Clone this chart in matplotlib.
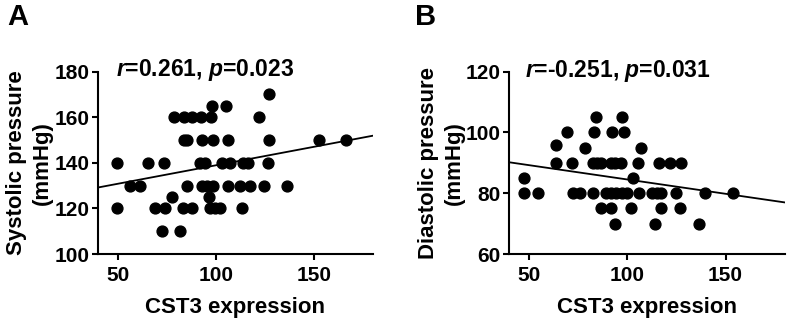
import numpy as np
import matplotlib
matplotlib.use("Agg")
import matplotlib.pyplot as plt

plt.rcParams['font.family'] = ['Liberation Sans', 'DejaVu Sans']
plt.rcParams['font.weight'] = 'bold'
plt.rcParams['mathtext.fontset'] = 'custom'
plt.rcParams['mathtext.rm'] = 'Liberation Sans:bold'
plt.rcParams['mathtext.it'] = 'Liberation Sans:bold:italic'

# panel A: CST3 expression vs systolic pressure
sys_x = [127.3,
         98.2, 105.5,
         79, 84, 88, 92.5, 97.5, 122,
         84, 85.5, 92.8, 98.5, 106.3, 127.3, 152.8, 166.5,
         49.5, 65.3, 73.5, 92, 94.8, 103.2, 107.3, 114, 116.5, 126.5,
         56.5, 61.2, 85.2, 92.8, 95.7, 98.5, 106.5, 112.3, 117.3, 124.8, 136.2,
         77.8, 96.5,
         49.5, 69, 74, 83.2, 87.8, 97.3, 99.8, 102.3, 113.2,
         72.7, 82]
sys_y = [170,
         165, 165,
         160, 160, 160, 160, 160, 160,
         150, 150, 150, 150, 150, 150, 150, 150,
         140, 140, 140, 140, 140, 140, 140, 140, 140, 140,
         130, 130, 130, 130, 130, 130, 130, 130, 130, 130, 130,
         125, 125,
         120, 120, 120, 120, 120, 120, 120, 120, 120,
         110, 110]
sys_fit_x = [40, 180]
sys_fit_y = [129.2, 151.9]

# panel B: CST3 expression vs diastolic pressure
dia_x = [84.3, 97.4,
         69.4, 82.9, 92.3, 98.3,
         63.7,
         78.3, 107.2,
         63.7, 72, 82.5, 84.7, 86.7, 91.5, 93.6, 97, 105.7, 115.9, 121.9, 127.4,
         47.4, 103.1,
         47.4, 54.8, 72.3, 76.2, 82.5, 89.4, 92, 94.5, 97.1, 99.7, 106,
         112.5, 115, 117, 125, 139.5, 153.6,
         86.5, 92, 102, 117.2, 126.6,
         93.7, 114.2, 136.5]
dia_y = [105, 105,
         100, 100, 100, 100,
         96,
         95, 95,
         90, 90, 90, 90, 90, 90, 90, 90, 90, 90, 90, 90,
         85, 85,
         80, 80, 80, 80, 80, 80, 80, 80, 80, 80, 80,
         80, 80, 80, 80, 80, 80,
         75, 75, 75, 75, 75,
         70, 70, 70]
dia_fit_x = [40, 180]
dia_fit_y = [90.2, 77.0]

fig = plt.figure(figsize=(7.87, 3.2), dpi=100)
ax1 = fig.add_axes([0.1245, 0.206, 0.349, 0.570])
ax2 = fig.add_axes([0.647, 0.206, 0.350, 0.570])


def style_axis(ax, ylim, yticks, ylabel):
    ax.set_xlim(40, 180)
    ax.set_ylim(*ylim)
    ax.set_xticks([50, 100, 150])
    ax.set_yticks(yticks)
    for side in ['top', 'right']:
        ax.spines[side].set_visible(False)
    for side in ['left', 'bottom']:
        ax.spines[side].set_linewidth(1.5)
    ax.tick_params(direction='out', length=4.5, width=1.5, labelsize=15)
    ax.tick_params(axis='x', pad=4)
    ax.tick_params(axis='y', pad=1.5)
    for lab in ax.get_xticklabels() + ax.get_yticklabels():
        lab.set_fontweight('bold')
    ax.set_xlabel('CST3 expression', fontsize=16, fontweight='bold', labelpad=9)
    ax.set_ylabel(ylabel, fontsize=16, fontweight='bold', labelpad=1,
                  linespacing=1.3)


ax1.plot(sys_x, sys_y, 'o', color='black', markersize=7.8, clip_on=False)
ax1.plot(sys_fit_x, sys_fit_y, '-', color='black', linewidth=1.3)
style_axis(ax1, (100, 180), [100, 120, 140, 160, 180], 'Systolic pressure\n(mmHg)')
ax1.text(0.389, 0.978, '$r$=0.261, $p$=0.023', transform=ax1.transAxes,
         ha='center', va='baseline', fontsize=16.5, fontweight='bold')

ax2.plot(dia_x, dia_y, 'o', color='black', markersize=7.8, clip_on=False)
ax2.plot(dia_fit_x, dia_fit_y, '-', color='black', linewidth=1.3)
style_axis(ax2, (60, 120), [60, 80, 100, 120], 'Diastolic pressure\n(mmHg)')
ax2.text(0.395, 0.972, '$r$=-0.251, $p$=0.031', transform=ax2.transAxes,
         ha='center', va='baseline', fontsize=16.5, fontweight='bold')

fig.text(0.009, 0.922, 'A', fontsize=21, fontweight='bold', ha='left', va='baseline')
fig.text(0.527, 0.922, 'B', fontsize=21, fontweight='bold', ha='left', va='baseline')

fig.savefig('out.png', dpi=100)
